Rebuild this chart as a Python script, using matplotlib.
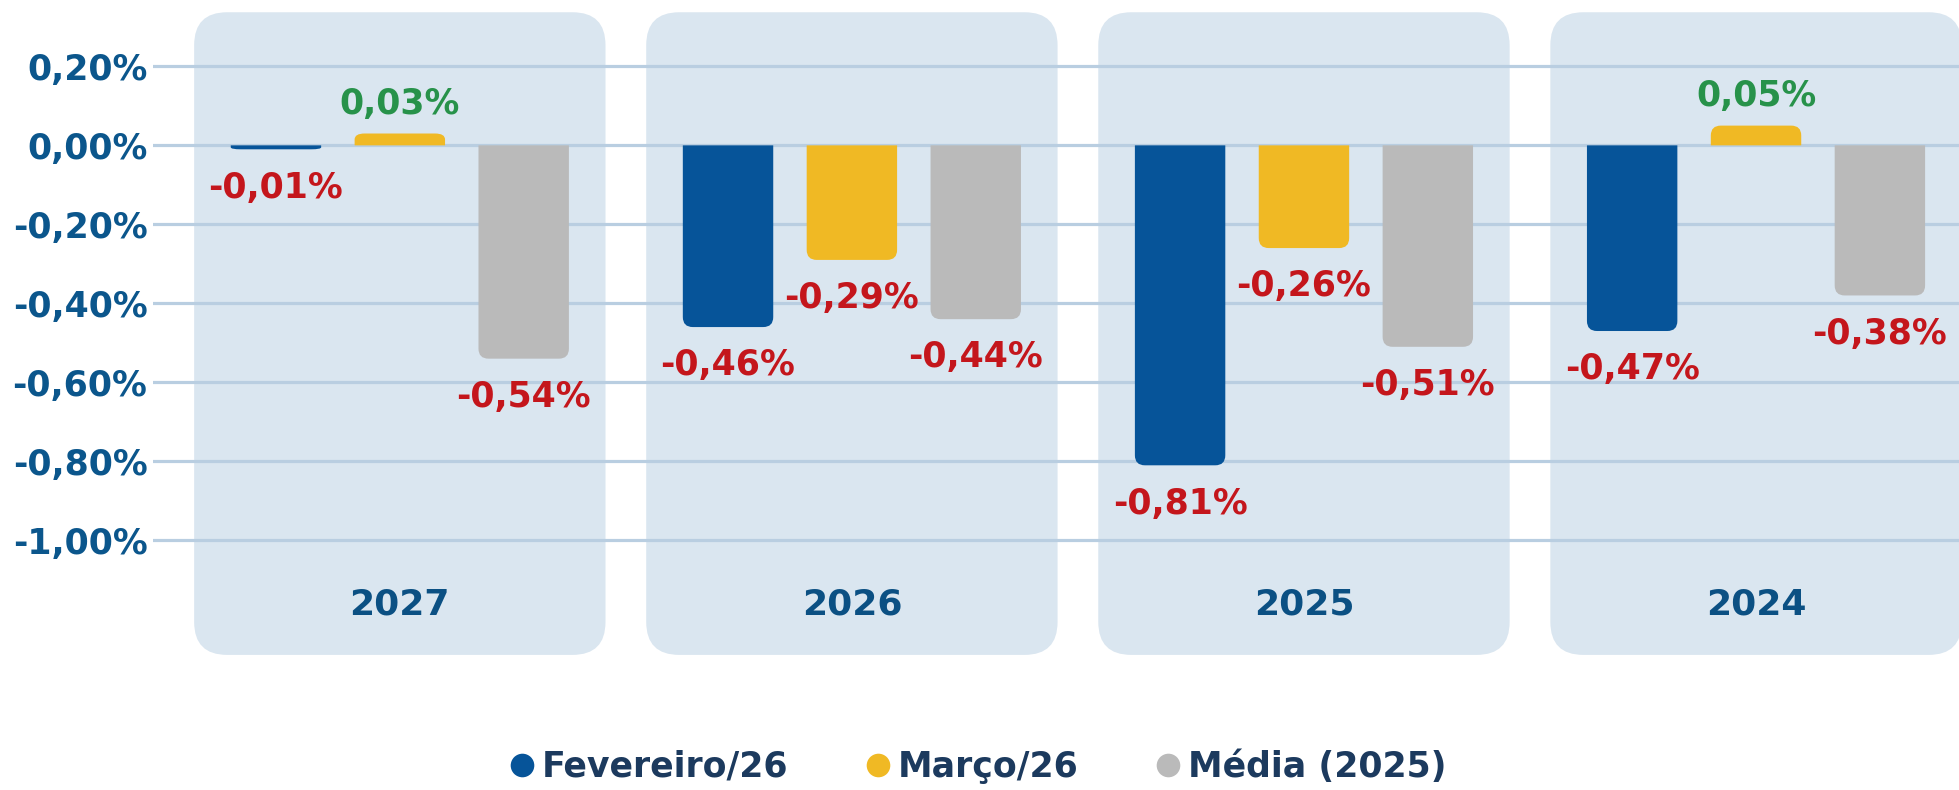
import numpy as np
import matplotlib
matplotlib.use("Agg")
import matplotlib.pyplot as plt
from matplotlib.patches import FancyBboxPatch, PathPatch
from matplotlib.path import Path
from matplotlib.lines import Line2D

# dados
anos = ["2027", "2026", "2025", "2024"]
series = ["Fevereiro/26", "Março/26", "Média (2025)"]
fevereiro = [-0.01, -0.46, -0.81, -0.47]
marco = [0.03, -0.29, -0.26, 0.05]
media = [-0.54, -0.44, -0.51, -0.38]
yticks = [0.2, 0.0, -0.2, -0.4, -0.6, -0.8, -1.0]

cores = ["#065499", "#f0b924", "#bababa"]
cor_painel = "#dae6f0"
cor_grade = "#b9cee1"
cor_eixo = "#0b568c"
cor_neg = "#c4161c"
cor_pos = "#27924a"
cor_legenda = "#1c3a5e"

plt.rcParams["font.family"] = ["DejaVu Sans"]

W, H = 1959, 790
fig = plt.figure(figsize=(W / 100, H / 100), dpi=100)
left_px = 153
ax = fig.add_axes([left_px / W, 0, 1 - left_px / W, 1])
xlim = (-0.546, 3.449)
ylim = (-1.632, 0.368)
ax.set_xlim(*xlim)
ax.set_ylim(*ylim)

# pixels por unidade de dado (para arredondar os cantos)
px_x = (W - left_px) / (xlim[1] - xlim[0])
px_y = H / (ylim[1] - ylim[0])
aspecto = px_x / px_y


def barra_arredondada(a, b, v, cor):
    # retangulo com cantos arredondados so na ponta da barra
    s = 1 if v >= 0 else -1
    rx = min(10 / px_x, (b - a) / 2)
    ry = min(10 / px_y, abs(v) / 2)
    verts = [(a, 0), (a, v - s * ry), (a, v), (a + rx, v), (b - rx, v),
             (b, v), (b, v - s * ry), (b, 0), (a, 0)]
    codes = [Path.MOVETO, Path.LINETO, Path.CURVE3, Path.CURVE3, Path.LINETO,
             Path.CURVE3, Path.CURVE3, Path.LINETO, Path.CLOSEPOLY]
    ax.add_patch(PathPatch(Path(verts, codes), fc=cor, ec="none", zorder=2))


x = np.arange(len(anos))

# paineis de fundo
larg_painel = 0.91
topo, base = 0.337, -1.29
for xi in x:
    p = FancyBboxPatch((xi - larg_painel / 2, base), larg_painel, topo - base,
                       boxstyle="round,pad=0,rounding_size=%f" % (33 / px_x),
                       mutation_aspect=aspecto, fc=cor_painel, ec="none", zorder=0.2)
    ax.add_patch(p)
    ax.text(xi, -1.163, anos[xi], ha="center", va="center", fontsize=26,
            fontweight="bold", color="#0b5083")

# barras
larg = 0.2
desloc = 0.274
for k, (vals, cor) in enumerate(zip([fevereiro, marco, media], cores)):
    barras = ax.bar(x + (k - 1) * desloc, vals, larg, color=cor, zorder=2)
    for b, v in zip(barras, vals):
        b.set_visible(False)
        bx, bw = b.get_x(), b.get_width()
        barra_arredondada(bx, bx + bw, v, cor)
        rot = ("%.2f%%" % v).replace(".", ",")
        if v >= 0:
            ax.text(bx + bw / 2, v + 0.075, rot, ha="center", va="center",
                    fontsize=25, fontweight="bold", color=cor_pos)
        else:
            ax.text(bx + bw / 2, v - 0.097, rot, ha="center", va="center",
                    fontsize=25, fontweight="bold", color=cor_neg)

# eixo y
ax.set_yticks(yticks)
ax.set_yticklabels([("%.2f%%" % t).replace(".", ",") for t in yticks],
                   fontsize=25, fontweight="bold", color=cor_eixo)
ax.tick_params(axis="y", length=0, pad=4)
ax.set_xticks([])
ax.set_axisbelow(True)
ax.grid(axis="y", color=cor_grade, lw=2.3)
for s in ax.spines.values():
    s.set_visible(False)
ax.patch.set_alpha(0)

# legenda
handles = [Line2D([], [], ls="none", marker="o", ms=17, mfc=c, mec="none") for c in cores]
leg = fig.legend(handles, series, loc="center", bbox_to_anchor=(0.5, 1 - 767 / H),
                 ncol=3, frameon=False, fontsize=25, handlelength=0.55,
                 handletextpad=0.3, columnspacing=2.3, borderaxespad=0)
for t in leg.get_texts():
    t.set_color(cor_legenda)
    t.set_fontweight("bold")

fig.savefig("out.png", dpi=100)
